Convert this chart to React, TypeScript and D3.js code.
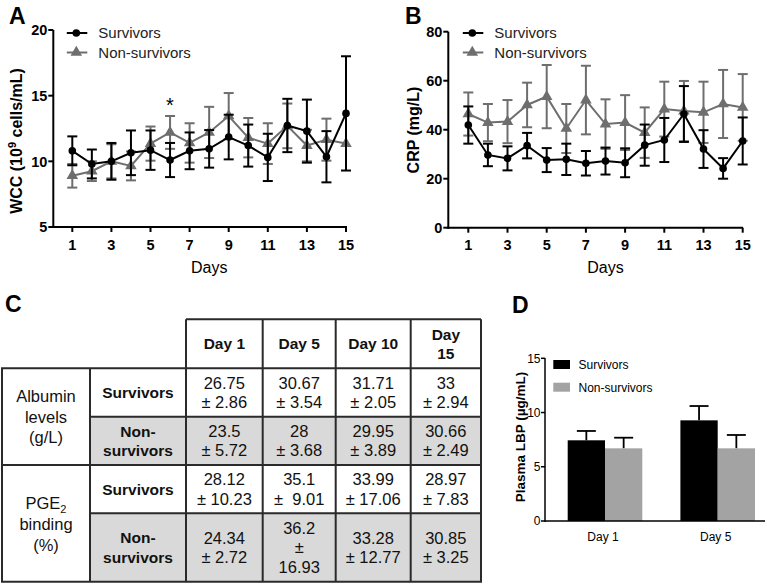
import React from 'react';
import * as d3 from 'd3';

const FONT = '"Liberation Sans", Arial, sans-serif';
const BLACK = '#000';
const GREY = '#6e6e6e';
const BAR_GREY = '#a3a3a3';
const CELL_GREY = '#d9d9d9';

// ---- panel A / B data ----
const DAYS = [1, 2, 3, 4, 5, 6, 7, 8, 9, 10, 11, 12, 13, 14, 15];
const TICK_DAYS = [1, 3, 5, 7, 9, 11, 13, 15];
const SERIES_NAMES = ['Survivors', 'Non-survivors'];

const WCC_TICKS = [5, 10, 15, 20];
const wccSurvMean = [10.8, 9.8, 10.0, 10.65, 10.85, 10.1, 10.8, 10.95, 11.85, 11.2, 10.3, 12.73, 12.3, 10.35, 13.65];
const wccSurvErr = [1.1, 1.1, 1.4, 1.7, 1.5, 1.3, 1.4, 1.43, 1.7, 1.6, 1.8, 2.03, 2.4, 1.95, 4.35];
const wccNonMean = [8.9, 9.25, 10.0, 9.65, 11.35, 12.2, 11.4, 12.2, 13.45, 11.8, 11.35, 12.7, 11.2, 11.65, 11.35];
const wccNonErr = [0.9, 0.75, 1.3, 1.1, 1.3, 1.25, 1.5, 1.95, 1.75, 1.5, 1.55, 1.7, 1.2, 1.6, 0];

const CRP_TICKS = [0, 20, 40, 60, 80];
const crpSurvMean = [41.9, 29.7, 28.3, 33.5, 27.6, 27.9, 26.3, 27.2, 26.5, 33.7, 35.8, 46.4, 32.1, 24.2, 35.4];
const crpSurvErr = [7.6, 4.6, 4.9, 5.2, 4.9, 6.4, 5.0, 5.5, 5.9, 8.4, 9.0, 11.4, 7.7, 4.2, 9.6];
const crpNonMean = [46.4, 42.9, 43.3, 50.1, 53.5, 40.5, 52.1, 42.3, 42.9, 38.8, 48.4, 47.6, 47.1, 50.5, 49.1];
const crpNonErr = [8.8, 7.6, 8.8, 9.1, 12.9, 10.0, 14.0, 10.1, 11.2, 10.3, 11.2, 12.3, 12.5, 13.9, 13.6];

// ---- panel C data ----
const TABLE_DAYS = [['Day 1'], ['Day 5'], ['Day 10'], ['Day', '15']];
const albuminSurv = [['26.75', '± 2.86'], ['30.67', '± 3.54'], ['31.71', '± 2.05'], ['33', '± 2.94']];
const albuminNon = [['23.5', '± 5.72'], ['28', '± 3.68'], ['29.95', '± 3.89'], ['30.66', '± 2.49']];
const pgeSurv = [['28.12', '± 10.23'], ['35.1', '±\u00a0\u00a09.01'], ['33.99', '± 17.06'], ['28.97', '± 7.83']];
const pgeNon = [['24.34', '± 2.72'], ['36.2', '±', '16.93'], ['33.28', '± 12.77'], ['30.85', '± 3.25']];

// ---- panel D data ----
const LBP_GROUPS = ['Day 1', 'Day 5'];
const LBP_TICKS = [0, 5, 10, 15];
const lbpSurvMean = [7.44, 9.28];
const lbpSurvErr = [0.86, 1.32];
const lbpNonMean = [6.7, 6.7];
const lbpNonErr = [0.98, 1.23];

type Series = { name: string; mean: number[]; err: number[]; color: string; marker: 'circle' | 'triangle' };

function LinePanel({ x0, x1, yTop, yBot, axisLeft, axisRight, domain, ticks, series, label, labelX, title }: any) {
  const x = d3.scaleLinear().domain([1, 15]).range([x0, x1]);
  const y = d3.scaleLinear().domain(domain).range([yBot, yTop]);
  const line = d3.line<number>().x((_, i) => x(DAYS[i])).y(d => y(d));
  const tri = d3.symbol().type(d3.symbolTriangle).size(58)() || '';
  // draw grey series first so black sits on top
  const drawOrder: Series[] = [...series].reverse();
  return (
    <g fontFamily={FONT}>
      <text x={labelX} y={24} fontSize={23} fontWeight="bold">{label}</text>
      {drawOrder.map((s, si) => (
        <g key={si} stroke={s.color} fill={s.color}>
          {s.mean.map((m, i) => s.err[i] > 0 && (
            <g key={i} strokeWidth={2}>
              <line x1={x(DAYS[i])} x2={x(DAYS[i])} y1={y(m - s.err[i])} y2={y(m + s.err[i])} />
              <line x1={x(DAYS[i]) - 5} x2={x(DAYS[i]) + 5} y1={y(m - s.err[i])} y2={y(m - s.err[i])} />
              <line x1={x(DAYS[i]) - 5} x2={x(DAYS[i]) + 5} y1={y(m + s.err[i])} y2={y(m + s.err[i])} />
            </g>
          ))}
          <path d={line(s.mean) || ''} fill="none" strokeWidth={2} />
          {s.mean.map((m, i) => s.marker === 'circle'
            ? <circle key={i} cx={x(DAYS[i])} cy={y(m)} r={3.8} stroke="none" />
            : <path key={i} d={tri} transform={`translate(${x(DAYS[i])},${y(m)})`} stroke="none" />)}
        </g>
      ))}
      {/* axes */}
      <line x1={axisLeft} x2={axisLeft} y1={yTop} y2={yBot + 1} stroke={BLACK} strokeWidth={2} />
      <line x1={axisLeft - 1} x2={axisRight} y1={yBot} y2={yBot} stroke={BLACK} strokeWidth={2} />
      {ticks.map((t: number) => (
        <g key={t}>
          <line x1={axisLeft - 5} x2={axisLeft} y1={y(t)} y2={y(t)} stroke={BLACK} strokeWidth={2} />
          <text x={axisLeft - 6} y={y(t)} dy="0.36em" textAnchor="end" fontSize={14.5} fontWeight="bold">{t}</text>
        </g>
      ))}
      {TICK_DAYS.map(d => (
        <g key={d}>
          <line x1={x(d)} x2={x(d)} y1={yBot} y2={yBot + 5} stroke={BLACK} strokeWidth={2} />
          <text x={x(d)} y={249.5} textAnchor="middle" fontSize={14.5} fontWeight="bold">{d}</text>
        </g>
      ))}
      <text x={(x0 + x1) / 2} y={273} textAnchor="middle" fontSize={16}>Days</text>
      {title}
      {/* legend */}
      {series.map((s: Series, si: number) => {
        const ly = 33 + si * 19.5;
        return (
          <g key={si} fill={s.color} stroke={s.color}>
            <line x1={x0 - 5.5} x2={x0 + 15} y1={ly} y2={ly} strokeWidth={2} />
            {s.marker === 'circle'
              ? <circle cx={x0 + 4} cy={ly} r={3.8} stroke="none" />
              : <path d={tri} transform={`translate(${x0 + 4},${ly})`} stroke="none" />}
            <text x={x0 + 26} y={ly} dy="0.36em" fontSize={15} stroke="none" fill="#222">{s.name}</text>
          </g>
        );
      })}
    </g>
  );
}

function Cell({ x0, x1, y0, y1, lines, bold }: any) {
  const cx = (x0 + x1) / 2;
  const cy = (y0 + y1) / 2;
  const lh = 19.3;
  const start = cy - ((lines.length - 1) * lh) / 2;
  return (
    <text textAnchor="middle" fontSize={bold ? 15.5 : 16.5} fontWeight={bold ? 'bold' : 'normal'} fill="#111">
      {lines.map((l: string, i: number) => (
        <tspan key={i} x={cx} y={start + i * lh} dy="0.36em">{l}</tspan>
      ))}
    </text>
  );
}

function TablePanel() {
  const cols = [186, 262.7, 335.7, 410.7, 481];
  const rows = [319.3, 368.3, 416.7, 465, 513.3, 581.7];
  const leftA = 2;
  const leftB = 90;
  const bodyRows = [albuminSurv, albuminNon, pgeSurv, pgeNon];
  const rowLabels = [['Survivors'], ['Non-', 'survivors'], ['Survivors'], ['Non-', 'survivors']];
  const stroke = '#2a2a2a';
  return (
    <g fontFamily={FONT}>
      <text x={5} y={312} fontSize={23} fontWeight="bold">C</text>
      {bodyRows.map((r, ri) => (
        <g key={ri}>
          {ri % 2 === 1 && (
            <rect x={leftB} y={rows[ri + 1]} width={cols[4] - leftB} height={rows[ri + 2] - rows[ri + 1]} fill={CELL_GREY} />
          )}
          <Cell x0={leftB} x1={cols[0]} y0={rows[ri + 1]} y1={rows[ri + 2]} lines={rowLabels[ri]} bold />
          {r.map((c, ci) => (
            <Cell key={ci} x0={cols[ci]} x1={cols[ci + 1]} y0={rows[ri + 1]} y1={rows[ri + 2]} lines={c} />
          ))}
        </g>
      ))}
      {TABLE_DAYS.map((d, ci) => (
        <Cell key={ci} x0={cols[ci]} x1={cols[ci + 1]} y0={rows[0]} y1={rows[1]} lines={d} bold />
      ))}
      {/* group labels */}
      <text textAnchor="middle" fontSize={16.5} fill="#111">
        <tspan x={46} y={396} dy="0.36em">Albumin</tspan>
        <tspan x={46} y={416.7} dy="0.36em">levels</tspan>
        <tspan x={46} y={437.5} dy="0.36em">(g/L)</tspan>
      </text>
      <text textAnchor="middle" fontSize={16.5} fill="#111">
        <tspan x={46} y={503.5} dy="0.36em">PGE<tspan fontSize={11} dy="4">2</tspan></tspan>
        <tspan x={46} y={524} dy="0.36em">binding</tspan>
        <tspan x={46} y={545} dy="0.36em">(%)</tspan>
      </text>
      {/* grid */}
      <g stroke={stroke} strokeWidth={2}>
        <line x1={cols[0]} x2={cols[4]} y1={rows[0]} y2={rows[0]} />
        {[1, 3, 5].map(i => <line key={i} x1={leftA - 1} x2={cols[4] + 1} y1={rows[i]} y2={rows[i]} />)}
        {[2, 4].map(i => <line key={i} x1={leftB} x2={cols[4]} y1={rows[i]} y2={rows[i]} />)}
        {cols.map((c, i) => <line key={i} x1={c} x2={c} y1={rows[0]} y2={rows[5]} />)}
        <line x1={leftA} x2={leftA} y1={rows[1]} y2={rows[5]} />
        <line x1={leftB} x2={leftB} y1={rows[1]} y2={rows[5]} />
      </g>
    </g>
  );
}

function BarPanel() {
  const y = d3.scaleLinear().domain([0, 15]).range([521, 358.3]);
  const gx = d3.scalePoint<string>().domain(LBP_GROUPS).range([605, 717.7]);
  const sx = d3.scaleBand<string>().domain(SERIES_NAMES).range([-37.3, 37.3]);
  const means = [lbpSurvMean, lbpNonMean];
  const errs = [lbpSurvErr, lbpNonErr];
  const colors = [BLACK, BAR_GREY];
  const axisLeft = 545;
  return (
    <g fontFamily={FONT}>
      <text x={512} y={313} fontSize={23} fontWeight="bold">D</text>
      {LBP_GROUPS.map((g, gi) => SERIES_NAMES.map((s, si) => {
        const bx = (gx(g) || 0) + (sx(s) || 0);
        const w = sx.bandwidth();
        const m = means[si][gi];
        const top = y(m + errs[si][gi]);
        const cx = bx + w / 2;
        return (
          <g key={g + s}>
            <line x1={cx} x2={cx} y1={y(m)} y2={top} stroke={BLACK} strokeWidth={1.8} />
            <line x1={cx - 9.5} x2={cx + 9.5} y1={top} y2={top} stroke={BLACK} strokeWidth={1.8} />
            <rect x={bx} y={y(m)} width={w} height={y(0) - y(m)} fill={colors[si]} />
          </g>
        );
      }))}
      <line x1={axisLeft} x2={axisLeft} y1={358} y2={522} stroke={BLACK} strokeWidth={1.5} />
      <line x1={axisLeft} x2={765} y1={521} y2={521} stroke={BLACK} strokeWidth={1.5} />
      {LBP_TICKS.map(t => (
        <g key={t}>
          <line x1={axisLeft - 4} x2={axisLeft} y1={y(t)} y2={y(t)} stroke={BLACK} strokeWidth={1.5} />
          <text x={axisLeft - 4.5} y={y(t)} dy="0.36em" textAnchor="end" fontSize={12}>{t}</text>
        </g>
      ))}
      {LBP_GROUPS.map(g => (
        <text key={g} x={(gx(g) || 0) - 2} y={541} textAnchor="middle" fontSize={12}>{g}</text>
      ))}
      <text transform="translate(525,437) rotate(-90)" textAnchor="middle" fontSize={13.5} fontWeight="bold">
        Plasma LBP (µg/mL)
      </text>
      {SERIES_NAMES.map((s, si) => (
        <g key={s}>
          <rect x={553.3} y={360 + si * 22.7} width={16.7} height={9} fill={colors[si]} />
          <text x={578.5} y={364.5 + si * 22.7} dy="0.36em" fontSize={12}>{s}</text>
        </g>
      ))}
    </g>
  );
}

export default function App() {
  const seriesA: Series[] = [
    { name: SERIES_NAMES[0], mean: wccSurvMean, err: wccSurvErr, color: BLACK, marker: 'circle' },
    { name: SERIES_NAMES[1], mean: wccNonMean, err: wccNonErr, color: GREY, marker: 'triangle' },
  ];
  const seriesB: Series[] = [
    { name: SERIES_NAMES[0], mean: crpSurvMean, err: crpSurvErr, color: BLACK, marker: 'circle' },
    { name: SERIES_NAMES[1], mean: crpNonMean, err: crpNonErr, color: GREY, marker: 'triangle' },
  ];
  const titleA = (
    <text transform="translate(22,141) rotate(-90)" textAnchor="middle" fontSize={16} fontWeight="bold">
      WCC (10<tspan fontSize={11} dy="-6">9</tspan><tspan dy="6"> cells/mL)</tspan>
    </text>
  );
  const titleB = (
    <text transform="translate(419,130) rotate(-90)" textAnchor="middle" fontSize={16} fontWeight="bold">
      CRP (mg/L)
    </text>
  );
  return (
    <svg width={767} height={584} style={{ position: 'absolute', left: 0, top: 0, background: '#fff' }}>
      <LinePanel x0={72.3} x1={346} yTop={30} yBot={227} axisLeft={53.3} axisRight={347}
        domain={[5, 20]} ticks={WCC_TICKS} series={seriesA} label="A" labelX={9} title={titleA} />
      <text x={170} y={112} textAnchor="middle" fontSize={20} fontFamily={FONT}>*</text>
      <LinePanel x0={468.3} x1={742.7} yTop={31.7} yBot={227.7} axisLeft={448.3} axisRight={743}
        domain={[0, 80]} ticks={CRP_TICKS} series={seriesB} label="B" labelX={405} title={titleB} />
      <TablePanel />
      <BarPanel />
    </svg>
  );
}
